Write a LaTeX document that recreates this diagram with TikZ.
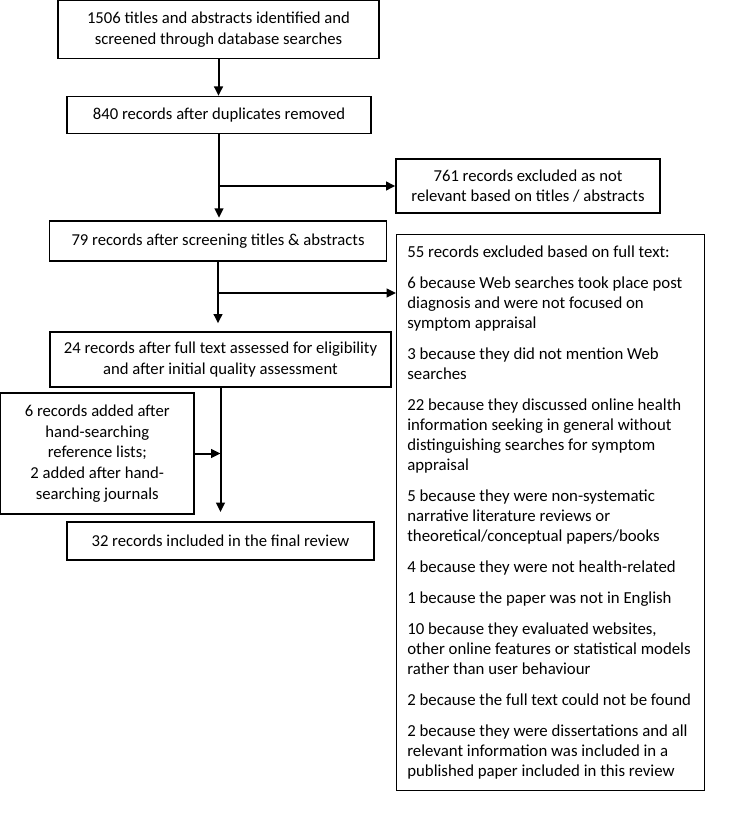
\documentclass[tikz,border=0pt]{standalone}
\usepackage{fontspec}
\setmainfont{Carlito}
\usetikzlibrary{arrows.meta, positioning}
\hyphenpenalty=10000
\begin{document}
\begin{tikzpicture}[x=0.75pt, y=-0.75pt, every node/.style={font=\fontsize{12.5}{15.5}\selectfont}, box/.style={draw, line width=1pt, inner sep=0pt, align=center},
    listbox/.style={box, align=flush left, font=\fontsize{12.6}{15}\selectfont, text width=215pt, inner xsep=8pt, anchor=north west, minimum height=417pt},
    flow/.style={->, line width=1.5pt}, >={Triangle[length=7pt, width=6.5pt]}]
    \useasboundingbox (0,0) rectangle (752,830);

    \node[box, minimum width=240.75pt, minimum height=43.5pt] (n1506) at (218.5, 29.5) {1506 titles and abstracts identified and\\screened through database searches};
    \node[box, minimum width=228pt, minimum height=27.75pt] (n840) at (219, 115) {840 records after duplicates removed};
    \node[box, minimum width=198pt, minimum height=40.5pt] (n761) at (528, 186) {761 records excluded as not\\relevant based on titles / abstracts};
    \node[box, minimum width=252.75pt, minimum height=30pt] (n79) at (218, 241) {79 records after screening titles \& abstracts};
    \node[listbox] (n55) at (396, 234) {55 records excluded based on full text:\\[8.2pt]
      6 because Web searches took place post diagnosis and were not focused on symptom appraisal\\[8.2pt]
      3 because they did not mention Web searches\\[8.2pt]
      22 because they discussed online health information seeking in general without distinguishing searches for symptom appraisal\\[8.2pt]
      5 because they were non-systematic narrative literature reviews or theoretical/conceptual papers/books\\[8.2pt]
      4 because they were not health-related\\[8.2pt]
      1 because the paper was not in English\\[8.2pt]
      10 because they evaluated websites, other online features or statistical models rather than user behaviour\\[8.2pt]
      2 because the full text could not be found\\[8.2pt]
      2 because they were dissertations and all relevant information was included in a published paper included in this review};
    \node[box, minimum width=255.75pt, minimum height=41.25pt] (n24) at (220.5, 359.5) {24 records after full text assessed for eligibility\\and after initial quality assessment};
    \node[box, minimum width=145pt, minimum height=90.75pt] (n6) at (97.25, 453.5) {6 records added after\\hand-searching\\reference lists;\\2 added after hand-\\searching journals};
    \node[box, minimum width=230.25pt, minimum height=28.5pt] (n32) at (220.5, 541) {32 records included in the final review};

    \coordinate (split) at (n79.south |- 0, 293);

    \draw[flow] (n1506.south) -- (n1506.south |- n840.north);
    \draw[flow, shorten >=2pt] (n840.south) -- (n840.south |- n79.north);
    \draw[flow] (n840.south |- n761.west) -- (n761.west);
    \draw[flow, shorten >=6pt] (n79.south) -- (n79.south |- n24.north);
    \draw[flow] (split) -- (split -| n55.west);
    \draw[flow, shorten >=7pt] (n24.south) -- (n24.south |- n32.north);
    \draw[flow] (n6.east) -- (n6.east -| n24.south);

\end{tikzpicture}
\end{document}
